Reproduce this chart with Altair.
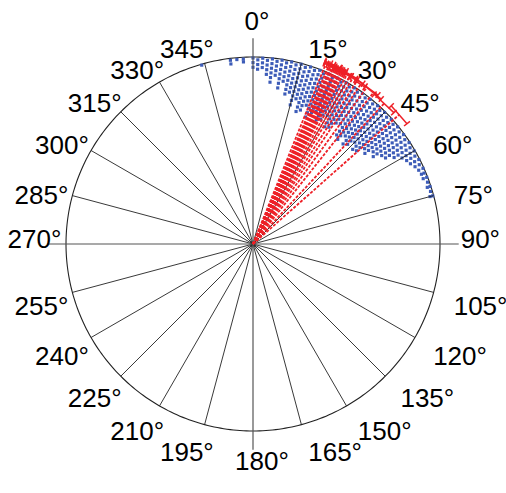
import altair as alt
import pandas as pd

# ---------------- layout (pixels) ----------------
W, H = 506, 493
CX, CY = 253, 244
R = 187.0
x_scale = alt.Scale(domain=[-CX / R, (W - CX) / R], nice=False, zero=False)
y_scale = alt.Scale(domain=[-(H - CY) / R, CY / R], nice=False, zero=False)

# ---------------- data ----------------
LABEL_ANGLES = list(range(0, 360, 15))
LABEL_TEXT = [f"{a}°" for a in LABEL_ANGLES]

SPOKE_ANGLES = [15, 30, 45, 60, 75, 105, 120, 135, 150, 165,
                195, 210, 225, 240, 255, 285, 300, 315, 330, 345]
AXIS_ANGLES = [0, 90]

# blue points: column angle (deg) and radii (fraction of outer circle)
BLUE_COL_ANGLE = [-16, -7, -5, -3, 0, 1.5, 3, 4.5, 6, 7.5, 9, 10.5, 12, 13.5, 15, 16.5,
                  18, 19.5, 21, 22.5, 24, 25.5, 27, 28.5, 30, 31.5, 33, 34.5, 36, 37.5,
                  39, 40.5, 42, 43.5, 45, 46.5, 48, 49.5, 51, 52.5, 54, 55.5, 57, 58.5,
                  60, 61.5, 63, 64.5, 66, 67.5, 69, 70.5, 72, 73.5, 75]
BLUE_COL_RADII = [
    [0.995],
    [0.99, 0.97],
    [0.99],
    [0.99, 0.975],
    [0.995, 0.97, 0.945],
    [0.985, 0.96, 0.935],
    [0.995, 0.97, 0.945],
    [0.985, 0.96, 0.935, 0.91],
    [0.995, 0.97, 0.945, 0.92, 0.895, 0.87],
    [0.985, 0.96, 0.935, 0.91],
    [0.995, 0.97, 0.945, 0.92, 0.895, 0.87, 0.845],
    [0.985, 0.96, 0.935, 0.91, 0.885],
    [0.995, 0.97, 0.945, 0.92, 0.895, 0.87, 0.845, 0.82],
    [0.985, 0.96, 0.935, 0.91, 0.885, 0.86, 0.835],
    [0.995, 0.97, 0.945, 0.92, 0.895, 0.87, 0.845, 0.82, 0.795, 0.77],
    [0.985, 0.96, 0.935, 0.91, 0.885, 0.86, 0.835, 0.81],
    [0.995, 0.97, 0.945, 0.92, 0.895, 0.87, 0.845, 0.82, 0.795, 0.77, 0.745],
    [0.985, 0.96, 0.935, 0.91, 0.885, 0.86, 0.835, 0.81, 0.785, 0.76],
    [0.995, 0.97, 0.945, 0.92, 0.895, 0.87, 0.845, 0.82, 0.795],
    [0.985, 0.96, 0.935, 0.91, 0.885, 0.86, 0.835, 0.81, 0.785, 0.76, 0.735],
    [0.995, 0.97, 0.945, 0.92, 0.895, 0.87, 0.845, 0.82, 0.795, 0.77],
    [0.985, 0.96, 0.935, 0.91, 0.885, 0.86, 0.835, 0.81, 0.785],
    [0.995, 0.97, 0.945, 0.92, 0.895, 0.87, 0.845, 0.82, 0.795, 0.77, 0.745],
    [0.985, 0.96, 0.935, 0.91, 0.885, 0.86, 0.835, 0.81, 0.785, 0.76],
    [0.995, 0.97, 0.945, 0.92, 0.895, 0.87, 0.845, 0.82, 0.795],
    [0.985, 0.96, 0.935, 0.91, 0.885, 0.86, 0.835, 0.81, 0.785, 0.76, 0.735],
    [0.995, 0.97, 0.945, 0.92, 0.895, 0.87, 0.845, 0.82, 0.795, 0.77, 0.745],
    [0.985, 0.96, 0.935, 0.91, 0.885, 0.86, 0.835, 0.81, 0.785],
    [0.995, 0.97, 0.945, 0.92, 0.895, 0.87, 0.845, 0.82, 0.795],
    [0.985, 0.96, 0.935, 0.91, 0.885, 0.86, 0.835, 0.81, 0.785, 0.76, 0.735],
    [0.995, 0.97, 0.945, 0.92, 0.895, 0.87, 0.845, 0.82, 0.795, 0.77, 0.745, 0.72],
    [0.985, 0.96, 0.935, 0.91, 0.885, 0.86, 0.835, 0.81, 0.785, 0.76],
    [0.995, 0.97, 0.945, 0.92, 0.895, 0.87, 0.845, 0.82, 0.795, 0.77, 0.745, 0.72],
    [0.985, 0.96, 0.935, 0.91, 0.885, 0.86, 0.835, 0.81, 0.785, 0.76, 0.735],
    [0.995, 0.97, 0.945, 0.92, 0.895, 0.87, 0.845, 0.82, 0.795, 0.77],
    [0.985, 0.96, 0.935, 0.91, 0.885, 0.86, 0.835, 0.81, 0.785, 0.76, 0.735],
    [0.995, 0.97, 0.945, 0.92, 0.895, 0.87, 0.845, 0.82, 0.795, 0.77, 0.745],
    [0.985, 0.96, 0.935, 0.91, 0.885, 0.86, 0.835, 0.81, 0.785],
    [0.995, 0.97, 0.945, 0.92, 0.895, 0.87, 0.845, 0.82, 0.795, 0.77],
    [0.985, 0.96, 0.935, 0.91, 0.885, 0.86, 0.835, 0.81],
    [0.995, 0.97, 0.945, 0.92, 0.895, 0.87, 0.845, 0.82, 0.795],
    [0.985, 0.96, 0.935, 0.91, 0.885, 0.86, 0.835],
    [0.995, 0.97, 0.945, 0.92, 0.895, 0.87, 0.845],
    [0.985, 0.96, 0.935, 0.91, 0.885],
    [0.995, 0.97, 0.945, 0.92],
    [0.985, 0.96, 0.935],
    [0.995, 0.97, 0.945],
    [0.985, 0.96],
    [0.995, 0.97],
    [0.99, 0.975],
    [0.995, 0.975],
    [0.99],
    [0.995, 0.98],
    [0.99],
    [0.995, 0.98],
]

# red lines: direction (deg), error-bar radius and half-width (deg)
RED_ANGLE = [22, 23, 23.5, 24, 24.5, 25, 25.5, 26, 26.5, 27, 27.5, 28, 29, 30, 31,
             32.5, 34, 36, 38.5, 43, 48.5]
RED_BAR_R = [1.04, 1.05, 1.04, 1.045, 1.035, 1.05, 1.04, 1.045, 1.03, 1.04, 1.05,
             1.035, 1.04, 1.045, 1.035, 1.04, 1.03, 1.04, 1.035, 1.03, 1.045]
RED_ERR = [0.5, 1.5, 1.0, 2.3, 1.0, 1.5, 2.5, 1.0, 2.0, 1.5, 1.0, 2.0, 1.5, 2.5, 1.0,
           2.0, 1.5, 4.0, 3.0, 4.0, 3.5]

# ---------------- tables ----------------
blue_a, blue_r = [], []
for a, rs in zip(BLUE_COL_ANGLE, BLUE_COL_RADII):
    for r in rs:
        blue_a.append(a)
        blue_r.append(r)
blue_df = pd.DataFrame({"a": blue_a, "r": blue_r})
red_df = pd.DataFrame({"a": RED_ANGLE, "rb": RED_BAR_R, "e": RED_ERR})
spoke_df = pd.DataFrame({"a": SPOKE_ANGLES, "r": 1.0})
axis_df = pd.DataFrame({"a": AXIS_ANGLES, "r": 1.1})
label_df = pd.DataFrame({"a": LABEL_ANGLES, "t": LABEL_TEXT})

D2R = "PI/180"
FONT = "Arial, Liberation Sans, Helvetica, sans-serif"
FS = 26


def X(f):
    return alt.X(f"{f}:Q", scale=x_scale, axis=None)


def Y(f):
    return alt.Y(f"{f}:Q", scale=y_scale, axis=None)


circle = alt.Chart(alt.sequence(0, 361, 1, as_="a")).transform_calculate(
    x=f"sin(datum.a*{D2R})", y=f"cos(datum.a*{D2R})"
).mark_line(color="#222222", strokeWidth=1.1).encode(x=X("x"), y=Y("y"), order="a:Q")

spokes = alt.Chart(spoke_df).transform_calculate(
    x0="0", y0="0",
    x1=f"datum.r*sin(datum.a*{D2R})", y1=f"datum.r*cos(datum.a*{D2R})"
).mark_rule(color="#222222", strokeWidth=0.9).encode(
    x=X("x0"), y=Y("y0"), x2="x1:Q", y2="y1:Q")

axes_lines = alt.Chart(axis_df).transform_calculate(
    x0=f"-datum.r*sin(datum.a*{D2R})", y0=f"-datum.r*cos(datum.a*{D2R})",
    x1=f"datum.r*sin(datum.a*{D2R})", y1=f"datum.r*cos(datum.a*{D2R})"
).mark_rule(color="#555555", strokeWidth=1.2).encode(
    x=X("x0"), y=Y("y0"), x2="x1:Q", y2="y1:Q")

blue = alt.Chart(blue_df).transform_calculate(
    x=f"datum.r*sin(datum.a*{D2R})", y=f"datum.r*cos(datum.a*{D2R})"
).mark_square(size=10, color="#3D5CB8", opacity=1).encode(x=X("x"), y=Y("y"))

RED = "#EE2027"
red_lines = alt.Chart(red_df).transform_calculate(
    x0="0", y0="0",
    x1=f"datum.rb*sin(datum.a*{D2R})", y1=f"datum.rb*cos(datum.a*{D2R})"
).mark_rule(color=RED, strokeWidth=1.8, strokeDash=[3, 1.5]).encode(
    x=X("x0"), y=Y("y0"), x2="x1:Q", y2="y1:Q")

red_bars = alt.Chart(red_df).transform_calculate(
    x0=f"datum.rb*sin((datum.a-datum.e)*{D2R})", y0=f"datum.rb*cos((datum.a-datum.e)*{D2R})",
    x1=f"datum.rb*sin((datum.a+datum.e)*{D2R})", y1=f"datum.rb*cos((datum.a+datum.e)*{D2R})"
).mark_rule(color=RED, strokeWidth=1.5).encode(
    x=X("x0"), y=Y("y0"), x2="x1:Q", y2="y1:Q")

CAP = 0.02


def caps(sign):
    ang = f"(datum.a{sign}datum.e)*{D2R}"
    return alt.Chart(red_df).transform_calculate(
        x0=f"(datum.rb-{CAP})*sin({ang})", y0=f"(datum.rb-{CAP})*cos({ang})",
        x1=f"(datum.rb+{CAP})*sin({ang})", y1=f"(datum.rb+{CAP})*cos({ang})"
    ).mark_rule(color=RED, strokeWidth=1.5).encode(
        x=X("x0"), y=Y("y0"), x2="x1:Q", y2="y1:Q")


LR = 1.1
lab_calc = dict(
    x=f"{LR}*sin(datum.a*{D2R})",
    y=f"{LR}*cos(datum.a*{D2R}) - ((datum.a==90||datum.a==270) ? -4 : "
      f"((datum.a>90&&datum.a<270) ? 10 : 5))/{R}",
)

labels_right = alt.Chart(label_df).transform_filter(
    "datum.a>0 && datum.a<180").transform_calculate(**lab_calc).mark_text(
    align="left", baseline="middle", dx=2, fontSize=FS, font=FONT, color="black"
).encode(x=X("x"), y=Y("y"), text="t:N")

labels_left = alt.Chart(label_df).transform_filter(
    "datum.a>180").transform_calculate(**lab_calc).mark_text(
    align="right", baseline="middle", dx=14, fontSize=FS, font=FONT, color="black"
).encode(x=X("x"), y=Y("y"), text="t:N")

label_top = alt.Chart(label_df).transform_filter("datum.a==0").transform_calculate(
    **lab_calc).mark_text(
    align="center", baseline="middle", dx=4, dy=-21, fontSize=FS, font=FONT, color="black"
).encode(x=X("x"), y=Y("y"), text="t:N")

label_bottom = alt.Chart(label_df).transform_filter("datum.a==180").transform_calculate(
    **lab_calc).mark_text(
    align="center", baseline="middle", dx=9, dy=2, fontSize=FS, font=FONT, color="black"
).encode(x=X("x"), y=Y("y"), text="t:N")

chart = alt.layer(
    circle, blue, spokes, axes_lines, red_lines, red_bars, caps("-"), caps("+"),
    labels_right, labels_left, label_top, label_bottom
).properties(
    width=W, height=H, autosize=alt.AutoSizeParams(type="none"), padding=0,
    background="white"
).configure_view(stroke=None)

chart.save("out.html", embed_options={"renderer": "svg", "actions": False})
